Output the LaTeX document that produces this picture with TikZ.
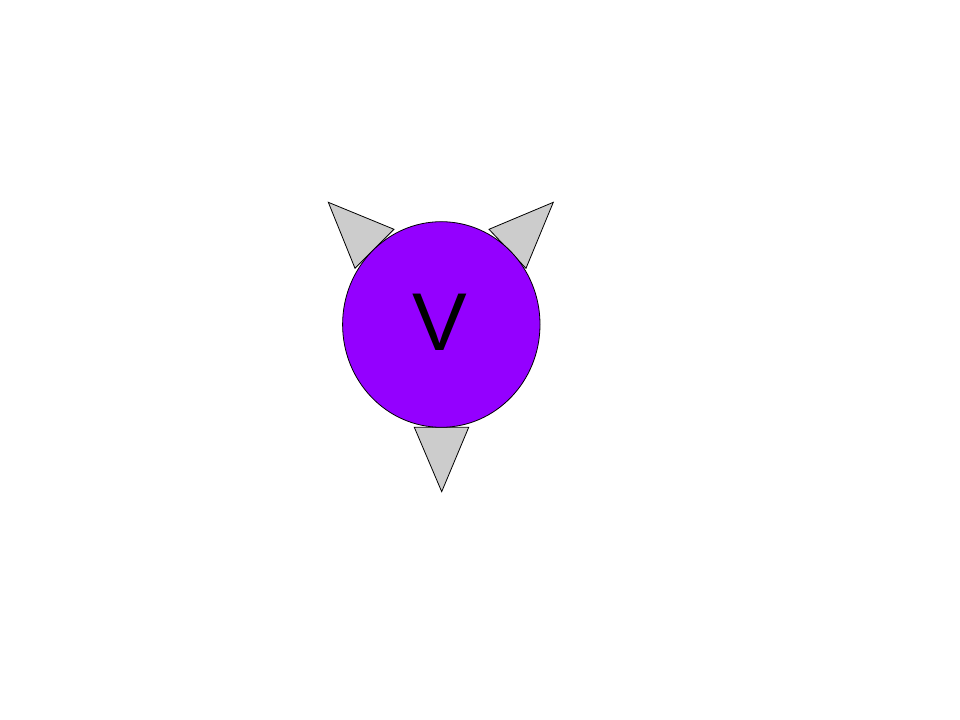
\documentclass[tikz,border=0pt]{standalone}
\usepackage{fontspec}
\setmainfont{Liberation Sans}
\usetikzlibrary{shapes.geometric}
\definecolor{vpurple}{HTML}{9400FF}
\definecolor{tgray}{HTML}{CCCCCC}
\begin{document}
\begin{tikzpicture}[x=0.75pt,y=-0.75pt,
  spike/.style={draw=black,fill=tgray,line width=0.6pt,line join=miter},
  body/.style={ellipse,draw=black,fill=vpurple,line width=0.6pt,minimum width=197.4*0.75pt,minimum height=205.6*0.75pt,inner sep=0pt}]
\useasboundingbox (0,0) rectangle (960,720);
\fill[white] (0,0) rectangle (960,720);
\draw[spike] (328.3,202.3) -- (394,229.3) -- (355,268.3) -- cycle;
\draw[spike] (553.3,202.3) -- (489,229.3) -- (526,268.3) -- cycle;
\draw[spike] (414.3,427.3) -- (468.7,427.3) -- (441.7,491.7) -- cycle;
\node[body] (v) at (441.3,324.5) {};
\node[font=\fontsize{61.5pt}{70pt}\selectfont,inner sep=0pt,anchor=center] (vlabel) at (439.5,322) {V};
\end{tikzpicture}
\end{document}
